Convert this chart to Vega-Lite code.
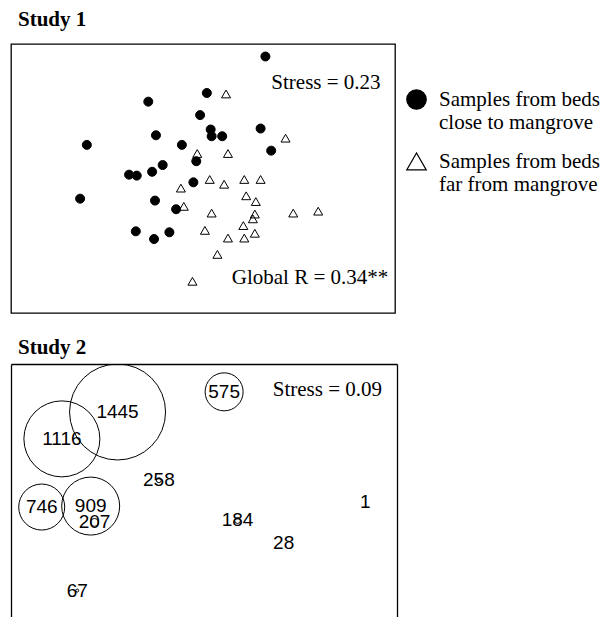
{
  "$schema": "https://vega.github.io/schema/vega-lite/v6.json",
  "padding": {"left": 10, "top": 8, "right": 0, "bottom": 0},
  "background": "white",
  "spacing": 23,
  "config": {
    "view": {"stroke": "black", "strokeWidth": 1.3},
    "font": "Liberation Serif",
    "title": {"font": "Liberation Serif", "fontSize": 21, "fontWeight": "bold", "color": "black", "anchor": "start", "dx": 7},
    "legend": {
      "orient": "none", "legendX": 395, "legendY": 45,
      "labelFont": "Liberation Serif", "labelFontSize": 21, "labelColor": "black", "labelLimit": 300,
      "symbolSize": 380, "symbolStrokeWidth": 1.2, "symbolStrokeColor": "black",
      "rowPadding": 17, "labelOffset": 12
    }
  },
  "vconcat": [
    {
      "title": {"text": "Study 1", "offset": 14},
      "width": 384,
      "height": 269,
      "layer": [
        {
          "data": {"values": [
            {"group": "close", "x": 0.65, "y": 1.27},
            {"group": "close", "x": 0.04, "y": 0.89},
            {"group": "close", "x": -0.57, "y": 0.80},
            {"group": "close", "x": -0.03, "y": 0.66},
            {"group": "close", "x": 0.08, "y": 0.51},
            {"group": "close", "x": 0.09, "y": 0.44},
            {"group": "close", "x": 0.20, "y": 0.44},
            {"group": "close", "x": -0.49, "y": 0.45},
            {"group": "close", "x": 0.60, "y": 0.52},
            {"group": "close", "x": -1.21, "y": 0.35},
            {"group": "close", "x": -0.22, "y": 0.35},
            {"group": "close", "x": 0.71, "y": 0.29},
            {"group": "close", "x": -0.07, "y": 0.18},
            {"group": "close", "x": -0.42, "y": 0.14},
            {"group": "close", "x": -0.53, "y": 0.07},
            {"group": "close", "x": -0.77, "y": 0.04},
            {"group": "close", "x": -0.69, "y": 0.03},
            {"group": "close", "x": -0.10, "y": -0.04},
            {"group": "close", "x": -1.28, "y": -0.21},
            {"group": "close", "x": -0.50, "y": -0.23},
            {"group": "close", "x": -0.28, "y": -0.32},
            {"group": "close", "x": -0.70, "y": -0.55},
            {"group": "close", "x": -0.51, "y": -0.63},
            {"group": "close", "x": -0.35, "y": -0.56},
            {"group": "far", "x": 0.24, "y": 0.88},
            {"group": "far", "x": 0.86, "y": 0.42},
            {"group": "far", "x": -0.06, "y": 0.26},
            {"group": "far", "x": 0.26, "y": 0.26},
            {"group": "far", "x": 0.07, "y": -0.01},
            {"group": "far", "x": 0.22, "y": -0.06},
            {"group": "far", "x": 0.43, "y": -0.01},
            {"group": "far", "x": 0.60, "y": -0.01},
            {"group": "far", "x": -0.23, "y": -0.10},
            {"group": "far", "x": 0.45, "y": -0.18},
            {"group": "far", "x": 0.55, "y": -0.24},
            {"group": "far", "x": -0.20, "y": -0.29},
            {"group": "far", "x": 0.09, "y": -0.36},
            {"group": "far", "x": 0.54, "y": -0.37},
            {"group": "far", "x": 0.52, "y": -0.42},
            {"group": "far", "x": 0.94, "y": -0.36},
            {"group": "far", "x": 1.20, "y": -0.34},
            {"group": "far", "x": 0.02, "y": -0.54},
            {"group": "far", "x": 0.42, "y": -0.49},
            {"group": "far", "x": 0.26, "y": -0.62},
            {"group": "far", "x": 0.43, "y": -0.62},
            {"group": "far", "x": 0.54, "y": -0.57},
            {"group": "far", "x": 0.15, "y": -0.79},
            {"group": "far", "x": -0.11, "y": -1.07}
          ]},
          "mark": {"type": "point", "filled": true, "strokeWidth": 1, "size": 81, "opacity": 1},
          "encoding": {
            "x": {"field": "x", "type": "quantitative", "scale": {"domain": [-2, 2], "nice": false, "zero": false}, "axis": null},
            "y": {"field": "y", "type": "quantitative", "scale": {"domain": [-1.4, 1.4], "nice": false, "zero": false}, "axis": null},
            "shape": {"field": "group", "type": "nominal", "scale": {"domain": ["close", "far"], "range": ["circle", "triangle-up"]},
              "legend": {"title": null, "labelExpr": "datum.label == 'close' ? ['Samples from beds', 'close to mangrove'] : ['Samples from beds', 'far from mangrove']"}},
            "fill": {"field": "group", "type": "nominal", "scale": {"domain": ["close", "far"], "range": ["black", "transparent"]},
              "legend": {"title": null, "labelExpr": "datum.label == 'close' ? ['Samples from beds', 'close to mangrove'] : ['Samples from beds', 'far from mangrove']"}},
            "stroke": {"field": "group", "type": "nominal", "scale": {"domain": ["close", "far"], "range": ["black", "black"]},
              "legend": {"title": null, "labelExpr": "datum.label == 'close' ? ['Samples from beds', 'close to mangrove'] : ['Samples from beds', 'far from mangrove']"}}
          }
        },
        {
          "data": {"values": [
            {"label": "Stress = 0.23", "x": 1.85, "y": 0.99},
            {"label": "Global R = 0.34**", "x": 1.93, "y": -1.04}
          ]},
          "mark": {"type": "text", "align": "right", "baseline": "middle", "font": "Liberation Serif", "fontSize": 21, "color": "black"},
          "encoding": {
            "x": {"field": "x", "type": "quantitative"},
            "y": {"field": "y", "type": "quantitative"},
            "text": {"field": "label"}
          }
        }
      ]
    },
    {
      "title": {"text": "Study 2", "offset": 6},
      "width": 386,
      "height": 255,
      "view": {"stroke": null},
      "resolve": {"axis": {"y": "independent"}},
      "layer": [
        {
          "data": {"values": [
            {"label": "1445", "x": -0.89, "y": 0.90, "abundance": 48},
            {"label": "1116", "x": -1.47, "y": 0.62, "abundance": 38},
            {"label": "575", "x": 0.22, "y": 1.11, "abundance": 19},
            {"label": "746", "x": -1.68, "y": -0.09, "abundance": 23},
            {"label": "909", "x": -1.17, "y": -0.08, "abundance": 29},
            {"label": "207", "x": -1.13, "y": -0.25, "abundance": 4},
            {"label": "258", "x": -0.46, "y": 0.19, "abundance": 2.5},
            {"label": "184", "x": 0.36, "y": -0.23, "abundance": 3},
            {"label": "28", "x": 0.84, "y": -0.46, "abundance": 0},
            {"label": "1", "x": 1.69, "y": -0.04, "abundance": 0},
            {"label": "67", "x": -1.31, "y": -0.96, "abundance": 1.5}
          ]},
          "layer": [
            {
              "transform": [{"filter": "datum.abundance > 0"}],
              "mark": {"type": "point", "shape": "circle", "filled": false, "stroke": "black", "strokeWidth": 1, "opacity": 1, "clip": true},
              "encoding": {
                "x": {"field": "x", "type": "quantitative", "scale": {"domain": [-2, 2.0208], "nice": false, "zero": false},
                  "axis": {"orient": "top", "domain": true, "domainColor": "black", "domainWidth": 1.3, "ticks": false, "labels": false, "grid": false, "title": null}},
                "y": {"field": "y", "type": "quantitative", "scale": {"domain": [-1.2563, 1.4], "nice": false, "zero": false},
                  "axis": {"orient": "left", "domain": true, "domainColor": "black", "domainWidth": 1.3, "ticks": false, "labels": false, "grid": false, "title": null}},
                "size": {"field": "abundance", "type": "quantitative", "scale": {"type": "pow", "exponent": 2, "domain": [0, 48], "range": [0, 9216]}, "legend": null}
              }
            },
            {
              "mark": {"type": "text", "align": "center", "baseline": "middle", "font": "Liberation Sans", "fontSize": 19, "color": "black"},
              "encoding": {
                "x": {"field": "x", "type": "quantitative"},
                "y": {"field": "y", "type": "quantitative", "axis": {"orient": "right", "domain": true, "domainColor": "black", "domainWidth": 1.3, "ticks": false, "labels": false, "grid": false, "title": null}},
                "text": {"field": "label"}
              }
            }
          ]
        },
        {
          "data": {"values": [{"label": "Stress = 0.09", "x": 1.865, "y": 1.13}]},
          "mark": {"type": "text", "align": "right", "baseline": "middle", "font": "Liberation Serif", "fontSize": 21, "color": "black"},
          "encoding": {
            "x": {"field": "x", "type": "quantitative"},
            "y": {"field": "y", "type": "quantitative", "axis": null},
            "text": {"field": "label"}
          }
        }
      ]
    }
  ]
}
